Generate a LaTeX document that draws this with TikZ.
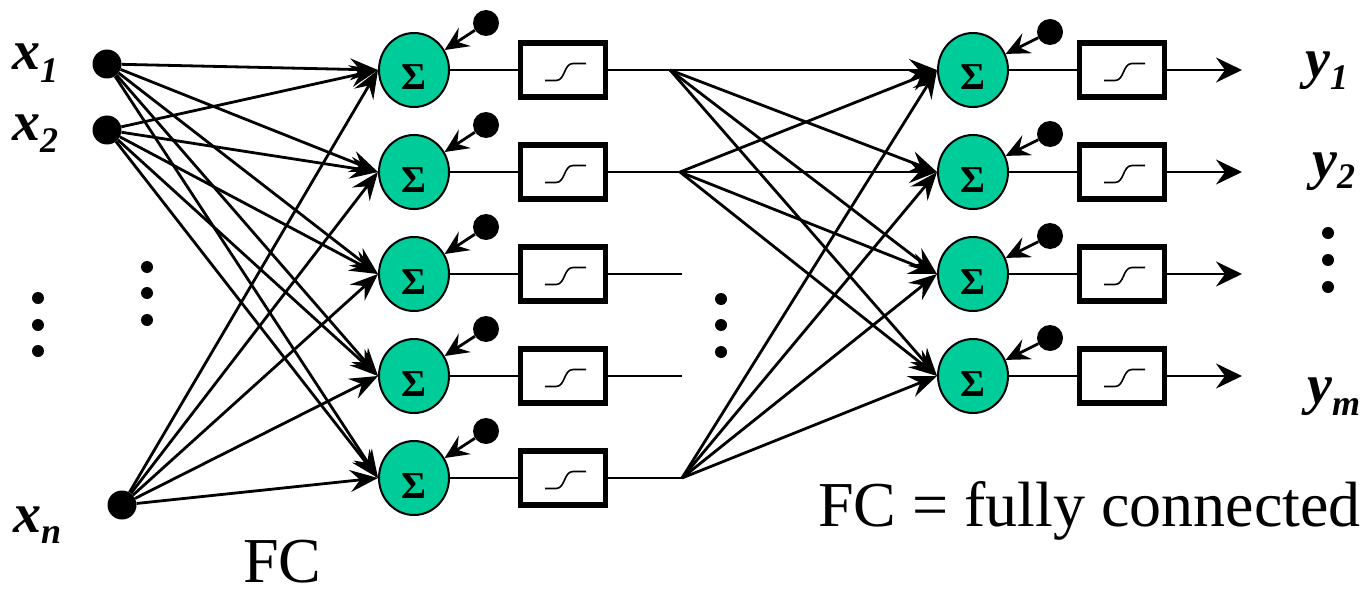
\documentclass[tikz,border=0pt]{standalone}
\usepackage{fontspec}
\setmainfont{Liberation Serif}[
  BoldFont={Liberation Serif Bold},
  ItalicFont={Liberation Serif Italic},
  BoldItalicFont={Liberation Serif Bold Italic}]
\usetikzlibrary{arrows.meta,shapes.geometric}
\definecolor{sumgreen}{RGB}{0,204,153}
\tikzset{
  sumnode/.style={ellipse, draw=black, line width=2pt, fill=sumgreen,
    minimum width=70pt, minimum height=74pt, inner sep=0pt,
    font=\fontsize{38}{38}\selectfont\bfseries, text height=40pt, text depth=0pt},
  actbox/.style={rectangle, draw=black, line width=5.5pt, fill=white,
    minimum width=85pt, minimum height=54pt, inner sep=0pt},
  bigdot/.style={circle, fill=black, minimum size=29pt, inner sep=0pt},
  biasdot/.style={circle, fill=black, minimum size=26pt, inner sep=0pt},
  smalldot/.style={circle, fill=black, minimum size=12pt, inner sep=0pt},
  wire/.style={line width=2.8pt},
  conn/.style={line width=2.8pt, -{Stealth[length=28pt,width=22pt,inset=10pt]}},
  biasarrow/.style={line width=2.8pt, -{Stealth[length=24pt,width=22pt,inset=9pt]}},
  outarrow/.style={line width=2.8pt, -{Stealth[length=26pt,width=25pt,inset=9pt]}},
  lbl/.style={anchor=base west, inner sep=0pt, font=\fontsize{56}{56}\selectfont\bfseries\itshape},
  caption/.style={anchor=base west, inner sep=0pt, font=\fontsize{64}{64}\selectfont},
  pics/sigmoid/.style={code={
    \draw[line width=1.6pt] (-18,10.5) -- (-7,10.5) to[out=0,in=180] (10,-6.5) -- (23,-6.5);
  }},
}
\newcommand{\subidx}[2]{\raisebox{-#1pt}{\fontsize{36}{36}\selectfont #2}}
\begin{document}
\begin{tikzpicture}[x=1pt,y=-1pt]
\useasboundingbox (0,0) rectangle (1370,591);

% input units
\node[bigdot] (x1) at (107,64) {};
\node[bigdot] (x2) at (107,130) {};
\node[bigdot] (xn) at (122,505) {};
\node[lbl] (lx1) at (12,70) {x\subidx{13}{1}};
\node[lbl] (lx2) at (12,140) {x\subidx{13}{2}};
\node[lbl] (lxn) at (13,532) {x\subidx{11}{n}};

% vertical ellipses
\foreach \n/\px/\py in {a1/38/298, a2/38/325, a3/38/351,
                        b1/147/267, b2/147/293, b3/147/320,
                        c1/721/299, c2/721/325, c3/721/352,
                        d1/1328/233, d2/1328/260, d3/1328/287}
  \node[smalldot] (\n) at (\px,\py) {};

% hidden layer: summing unit, bias, activation
\foreach \i/\y in {1/70,2/172,3/274,4/376,5/478} {
  \node[sumnode] (h\i) at (414,\y) {Σ};
  \node[biasdot] (bh\i) at (486,\y-47) {};
  \node[actbox] (sh\i) at (563,\y) {};
  \pic at (sh\i.center) {sigmoid};
  \draw[biasarrow] (bh\i) -- (h\i);
  \draw[wire] (h\i) -- (sh\i);
}

% outgoing ends of the hidden layer
\coordinate (f1) at (670,70);
\coordinate (f2) at (680,172);
\coordinate (f3) at (682,274);
\coordinate (f4) at (682,376);
\coordinate (f5) at (682,478);
\foreach \i in {1,...,5}
  \draw[wire] (sh\i) -- (f\i);

% output layer
\foreach \i/\y in {1/70,2/172,3/274,4/376} {
  \node[sumnode] (o\i) at (973,\y) {Σ};
  \node[biasdot] (bo\i) at (1050,\y-38) {};
  \node[actbox] (so\i) at (1122,\y) {};
  \pic at (so\i.center) {sigmoid};
  \coordinate (out\i) at (1242,\y);
  \draw[biasarrow] (bo\i) -- (o\i);
  \draw[wire] (o\i) -- (so\i);
  \draw[outarrow] (so\i) -- (out\i);
}

% fully connected links
\foreach \s in {x1,x2,xn}
  \foreach \t in {1,...,5}
    \draw[conn] (\s) -- (h\t.west);
\foreach \s in {f1,f2,f5}
  \foreach \t in {1,...,4}
    \draw[conn] (\s) -- (o\t.west);

% output labels
\node[lbl] (ly1) at (1305,78) {y\subidx{12}{1}};
\node[lbl] (ly2) at (1312,178) {y\subidx{10}{2}};
\node[lbl] (lym) at (1307,403) {y\subidx{12}{m}};

% captions
\node[caption] (fc) at (243,582) {FC};
\node[caption] (fcdef) at (818,526) {FC = fully connected};
\end{tikzpicture}
\end{document}
